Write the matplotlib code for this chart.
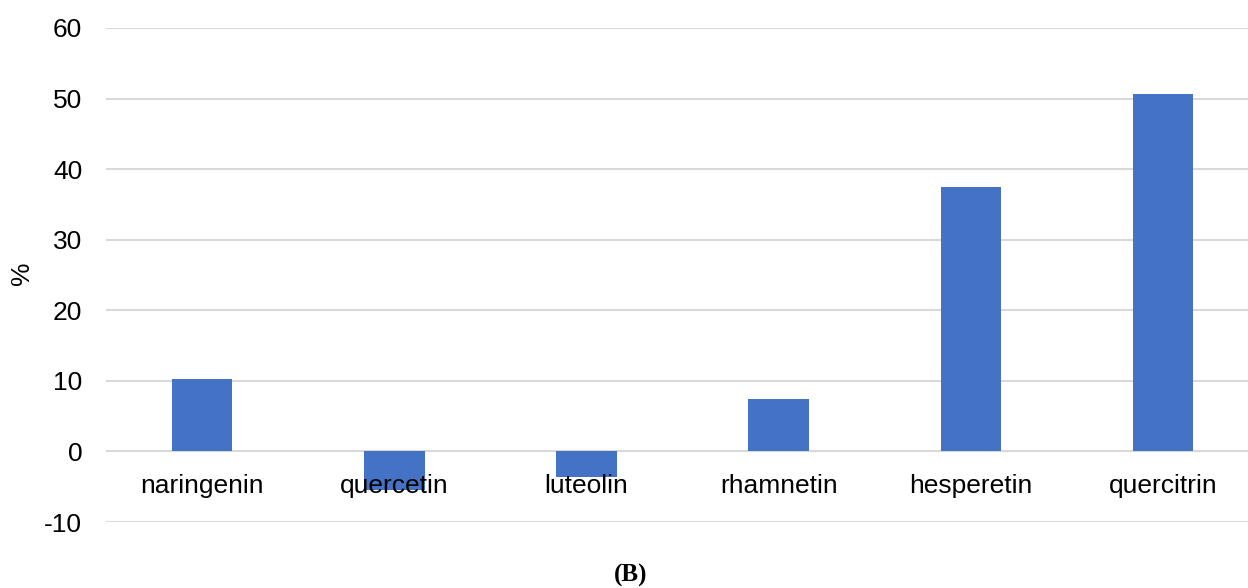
import matplotlib.pyplot as plt

compounds = ['naringenin', 'quercetin', 'luteolin', 'rhamnetin', 'hesperetin', 'quercitrin']
percent = [10.2, -5.5, -3.6, 7.4, 37.4, 50.7]
yticks = [-10, 0, 10, 20, 30, 40, 50, 60]

plt.rcParams['font.family'] = ['Liberation Sans', 'DejaVu Sans']
plt.rcParams['axes.unicode_minus'] = False

fig = plt.figure(figsize=(12.48, 5.88), dpi=100)
ax = fig.add_axes([0.0849, 0.1122, 0.924, 0.8402])

# grid lines drawn by hand so they sit under the bars but the labels stay on top
for y in yticks:
    ax.axhline(y, color='#d9d9d9', lw=1.5, zorder=0)

x = range(len(compounds))
ax.bar(x, percent, width=0.315, color='#4472c4', zorder=1)

ax.set_xlim(-0.5, len(compounds) - 0.5)
ax.set_ylim(-10, 60)
ax.set_yticks(yticks)
ax.set_xticks(list(x))
ax.set_xticklabels(compounds)
ax.tick_params(axis='both', length=0, labelsize=19)
ax.tick_params(axis='y', pad=17)
ax.tick_params(axis='x', pad=16)
ax.spines['bottom'].set_position(('data', 0))
for s in ax.spines.values():
    s.set_visible(False)

fig.text(0.018, 0.535, '%', rotation=90, ha='center', va='center', fontsize=19)

fig.text(0.505, 0.022, '(B)', ha='center', va='center', fontsize=18,
         fontweight='bold', family='Liberation Serif')

fig.savefig('out.png', dpi=100)
